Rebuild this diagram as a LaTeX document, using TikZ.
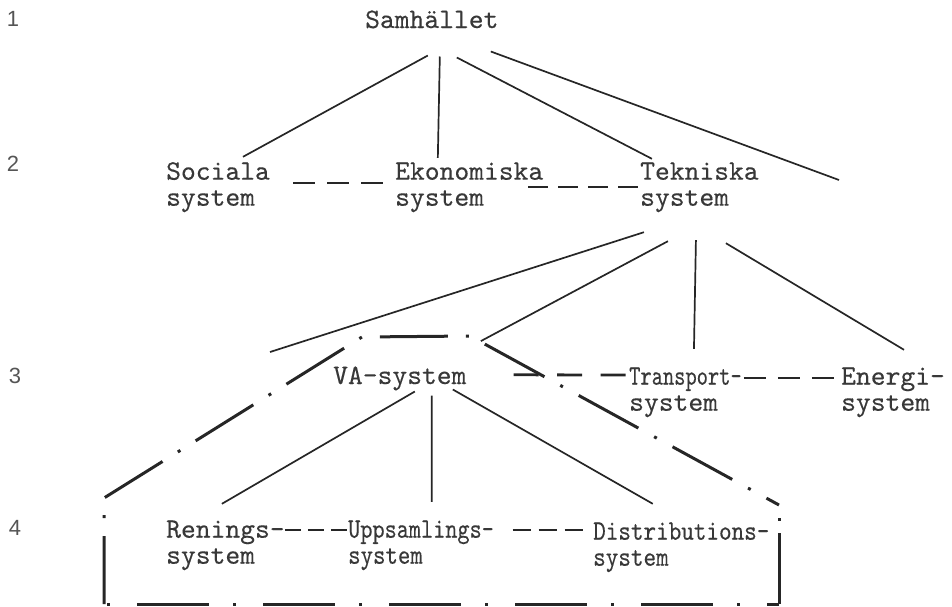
\documentclass[tikz,border=0pt]{standalone}
\usepackage{fontspec}
\usepackage{graphicx}
\newfontfamily\digitfont{Liberation Sans}
\newfontfamily\twfont[FakeBold=0.3]{lmmono10-regular.otf}
\usetikzlibrary{calc}
\definecolor{ink}{HTML}{262626}
\definecolor{txtink}{HTML}{383838}
\definecolor{lvlink}{HTML}{555555}
\newcommand{\nrw}[2]{\scalebox{#1}[1]{#2}}
\begin{document}
\begin{tikzpicture}[x=1pt,y=-1pt,
  txt/.style={font=\twfont\fontsize{28.2}{26}\selectfont, inner sep=0pt, align=left, text=txtink},
  lvl/.style={font=\digitfont\fontsize{22}{22}\selectfont, inner sep=0pt, text=lvlink},
  conn/.style={draw=ink, line width=1.7pt},
  dconn/.style={draw=ink, line width=2.8pt},
  bound/.style={draw=ink, line width=3pt}]
\useasboundingbox (0,0) rectangle (952,606);

% level numbers
\node[lvl] (l1) at (13,19) {1};
\node[lvl] (l2) at (13,164) {2};
\node[lvl] (l3) at (15,376) {3};
\node[lvl] (l4) at (15,528) {4};

% texts
\node[txt, anchor=base west] (sam) at (365,28) {\strut Samhället};
\node[txt, anchor=west] (soc) at (166,187.5) {\strut Sociala\\\strut system};
\node[txt, anchor=west] (eko) at (395,187.5) {\strut Ekonomiska\\\strut system};
\node[txt, anchor=west] (tek) at (640,187.5) {\strut Tekniska\\\strut system};
\node[txt, anchor=base west] (va) at (333,384) {\strut VA-system};
\node[txt, anchor=west] (tra) at (629,392.5) {\strut\nrw{0.76}{Transport-}\\\strut system};
\node[txt, anchor=west] (ene) at (841,392.5) {\strut Energi-\\\strut system};
\node[txt, anchor=west] (ren) at (166,545.5) {\strut Renings-\\\strut system};
\node[txt, anchor=west] (upp) at (348,545.5) {\strut\nrw{0.82}{Uppsamlings-}\\\strut\nrw{0.84}{system}};
\node[txt, anchor=west] (dis) at (593,547.5) {\strut\nrw{0.85}{Distributions-}\\\strut\nrw{0.85}{system}};

\coordinate (free1) at (839,180);
\coordinate (free2) at (270,352);

% boundary (dash-dot)
\draw[bound, dash pattern=on 68pt off 18pt on 3pt off 18pt]
  (104,604) -- (104,498) -- (362,337) -- (470,336) -- (779,505);
\draw[bound, dash pattern=on 3pt off 12pt on 100pt off 13pt, dash phase=115pt]
  (779,505) -- (779,604);
\draw[bound, dash pattern=on 72pt off 24pt on 3pt off 27pt, dash phase=93pt]
  (104,604) -- (779,604);

% level 1 -> 2
\draw[conn] ($(sam.south)+(-4,19.5)$) -- ($(soc.north)+(25,-4.5)$);
\draw[conn] ($(sam.south)+(8,20.5)$) -- ($(eko.north)+(-31.4,-3.5)$);
\draw[conn] ($(sam.south)+(25,21.5)$) -- ($(tek.north)+(-47.5,-2.5)$);
\draw[conn] ($(sam.south)+(59,15.5)$) -- (free1);

% level 2 -> 3
\draw[conn] ($(tek.south)+(-55.5,18.5)$) -- (free2);
\draw[conn] ($(tek.south)+(-31.5,27.5)$) -- ($(va.north)+(81,-24.5)$);
\draw[conn] ($(tek.south)+(-3.5,26.5)$) -- ($(tra.north)+(8.5,-17.5)$);
\draw[conn] ($(tek.south)+(26.5,29.5)$) -- ($(ene.north)+(11,-16.5)$);

% level 3 -> 4
\draw[conn] ($(va.south)+(15,-0.5)$) -- ($(ren.north)+(-3.5,-15.5)$);
\draw[conn] ($(va.south)+(32,3.5)$) -- ($(upp.north)+(10.8,-17.5)$);
\draw[conn] ($(va.south)+(53,-2.5)$) -- ($(dis.north)+(-28.5,-17.5)$);

% dashed relations
\draw[dconn, dash pattern=on 22pt off 12pt] ($(soc.east)+(23,-4.5)$) -- ($(eko.west)+(-12,-4.5)$);
\draw[dconn, dash pattern=on 20pt off 10pt] ($(eko.east)+(-15,-0.5)$) -- ($(tek.west)+(-1,-0.5)$);
\draw[dconn, dash pattern=on 25pt off 18.5pt] ($(va.east)+(47,-4)$) -- ($(tra.west)+(-3,-17.5)$);
\draw[dconn, dash pattern=on 22pt off 12pt] ($(tra.east)+(2,-14.5)$) -- ($(ene.west)+(-7,-14.5)$);
\draw[dconn, dash pattern=on 16pt off 7pt] ($(ren.east)+(0,-15.5)$) -- ($(upp.west)+(-1,-15.5)$);
\draw[dconn, dash pattern=on 18pt off 8pt] ($(upp.east)+(18.6,-15.5)$) -- ($(dis.west)+(-10,-17.5)$);
\end{tikzpicture}
\end{document}
